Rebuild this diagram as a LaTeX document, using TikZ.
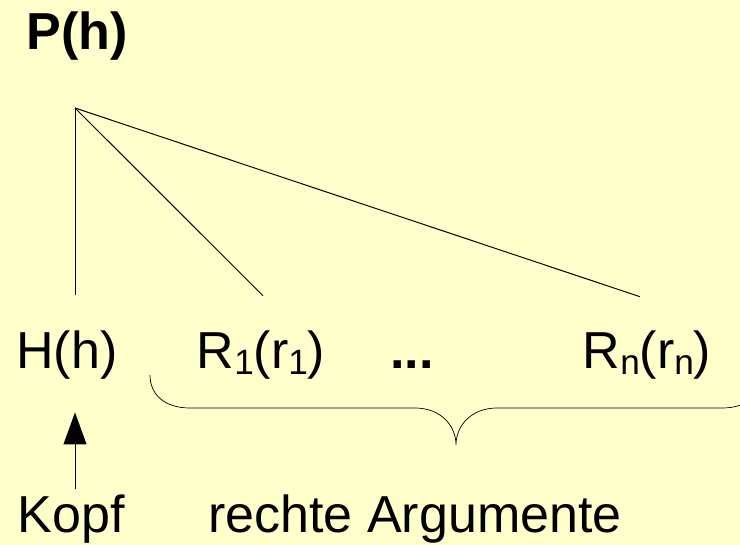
\documentclass[tikz,border=0pt]{standalone}
\usepackage{fontspec}
\setmainfont{Liberation Sans}
\usepackage{tikz}
\usetikzlibrary{arrows.meta, positioning, calc}
\definecolor{paper}{HTML}{FFFFCC}
\newcommand{\lowidx}[1]{\raisebox{-0.1em}{\fontsize{25}{30}\selectfont #1}}

\begin{document}
\begin{tikzpicture}[
    word/.style={anchor=base, inner sep=0pt, text height=0.95cm, text depth=0.3cm,
                 font=\fontsize{37}{44}\selectfont},
    branch/.style={line width=0.7pt},
    arr/.style={-{Triangle[length=0.8cm, width=0.575cm]}, line width=0.7pt},
]
\fill[paper] (0,0) rectangle (18.5,13.625);
\useasboundingbox (0,0) rectangle (18.5,13.625);
\clip (0,0) rectangle (18.5,13.625);

% Head of the rule
\node[word, font=\fontsize{37}{44}\selectfont\bfseries] (ph) at (1.925, 12.375) {P(h)};
\coordinate (top) at (1.875, 10.925);

% Row of daughters
\node[word] (hk) at (1.675, 4.4) {H(h)};
\node[word] (r1) at (6.525, 4.4) {R\lowidx{1}(r\lowidx{1})};
\node[word, font=\fontsize{37}{44}\selectfont\bfseries] (dots) at (10.3, 4.4) {...};
\node[word] (rn) at (16.175, 4.4) {R\lowidx{n}(r\lowidx{n})};

% Labels below
\node[word] (kopf) at (1.775, 0.3) {Kopf};
\node[word] (args) at (10.375, 0.3) {rechte Argumente};

% tree branches
\draw[branch] (top) -- ([yshift=0.9cm]hk.north -| top);
\draw[branch] (top) -- ([xshift=0.05cm, yshift=0.875cm]r1.north);
\draw[branch] (top) -- ([xshift=-0.175cm, yshift=0.85cm]rn.north);

% head marker
\draw[arr] ([yshift=0.15cm]kopf.north -| top) -- ([yshift=-0.78cm]hk.south -| top);

% brace under the right arguments
\draw[line width=0.5pt] (3.75,4.25) .. controls (3.75,3.75) and (4.125,3.425) .. (4.75,3.425)
    -- (10.375,3.425) .. controls (11.0,3.425) and (11.4,3.0) .. (11.4,2.5)
    .. controls (11.4,3.0) and (11.8,3.425) .. (12.425,3.425)
    -- (18.05,3.425) .. controls (18.675,3.425) and (19.05,3.75) .. (19.05,4.25);

\end{tikzpicture}
\end{document}
